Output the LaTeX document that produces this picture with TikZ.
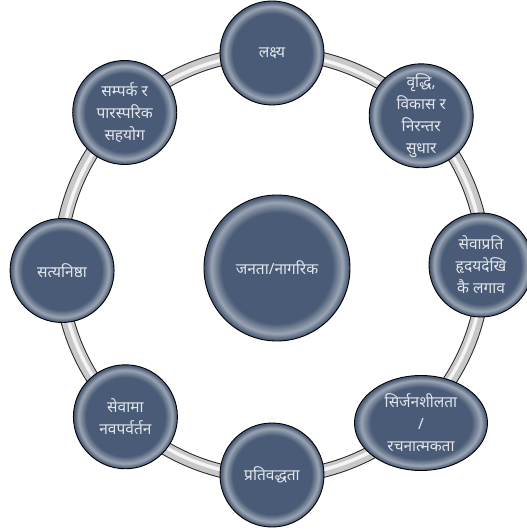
\documentclass[tikz,border=0pt]{standalone}
\usepackage{fontspec}
\newfontfamily\devfont[Script=Devanagari]{Noto Sans}
\usepackage{tikz}
\usetikzlibrary{shapes,positioning}
\definecolor{nodeblue}{RGB}{73,91,118}
\definecolor{ringgray}{RGB}{200,200,202}
\definecolor{textgray}{RGB}{226,230,236}
\pgfdeclareradialshading{glossy}{\pgfpoint{0bp}{0bp}}{%
	color(0bp)=(nodeblue); color(19bp)=(nodeblue);
	color(22.5bp)=(nodeblue!55!white); color(24.6bp)=(nodeblue);
	color(50bp)=(nodeblue)}
\tikzset{
	basic/.style  = {draw=black, line width=0.9pt, shading=glossy, text=textgray,
		font=\devfont\fontsize{15.5}{22}\selectfont, align=center, inner sep=0pt},
	hub/.style    = {basic, circle, minimum size=146pt},
	spoke/.style  = {basic, circle, minimum size=104pt},
	wide/.style   = {basic, ellipse, minimum width=133pt, minimum height=95pt}
}

\begin{document}
\begin{tikzpicture}[x=1pt,y=1pt]
\useasboundingbox (-272,-265) rectangle (255,265);

% ring behind the nodes
\draw[line width=14pt, black!85] (0,0) circle (212);
\draw[line width=12pt, ringgray] (0,0) circle (212);
\draw[line width=3.5pt, white!80!ringgray] (0,0) circle (211);

% central node
\node[hub] (c0) at (5,-3) {जनता/नागरिक};

% nodes on the ring
\node[spoke] (c1) at (90:212) {लक्ष्य};
\node[spoke] (c2) at (45:211) {वृद्धि,\\ विकास र\\ निरन्तर\\ सुधार};
\node[spoke] (c3) at (0:209) {सेवाप्रति\\ हृदयदेखि\\ कै लगाव};
\node[wide]  (c4) at (149,-158) {सिर्जनशीलता\\ /\\ रचनात्मकता};
\node[spoke] (c5) at (270:210) {प्रतिवद्धता};
\node[spoke] (c6) at (226:211) {सेवामा\\ नवपर्वर्तन};
\node[spoke] (c7) at (181.5:210) {सत्यनिष्ठा};
\node[spoke] (c8) at (134:212) {सम्पर्क र\\ पारस्परिक\\ सहयोग};

\end{tikzpicture}
\end{document}
